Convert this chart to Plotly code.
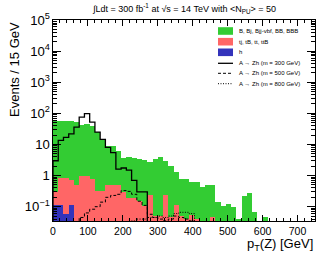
import numpy as np
import plotly.graph_objects as go

# ---- data (15 GeV bins from 0 to 750 GeV) ----
bin_width = 15
bin_edges = np.arange(0, 750 + bin_width, bin_width)
bin_centers = bin_edges[:-1] + bin_width / 2

# background components (stacked): h, tt-like, B-like
h_bkg = [0.11, 0.11, 0.058, 0.11]
tt_bkg = [0.19, 0.74, 0.79, 0.59, 0.5, 1.0, 1.0, 0.8, 0.33, 0.33,
          0.48, 0.5, 0.5, 0.29, 0.19, 0.19, 0.15, 0.107, 0.23, 0.049,
          0.049, 0.23, 0.045, 0.11, 0.049, 0.04, 0.055, 0.04, 0, 0,
          0.045]
b_bkg = [54.7, 55.15, 54.15, 56.3, 51.5, 41.0, 46.0, 37.2, 24.67, 14.17,
         8.52, 8.5, 5.5, 3.31, 3.91, 3.41, 3.15, 3.09, 2.47, 3.35,
         3.85, 2.77, 2.055, 1.19, 0.751, 0.76, 0.565, 0.56, 0.44, 0.51,
         0.465, 0.14, 0.107, 0.12, 0.095, 0.04, 0.22, 0.27, 0.066, 0.035,
         0.048, 0.035]

# signals A -> Zh
sig_300 = [3, 13.5, 17, 22, 36, 76, 98, 52, 25, 14.5,
           8, 5.5, 1.6, 1.75, 1.5, 0.7, 0.3, 0.3]
sig_500 = [0, 0, 0, 0, 0.03, 0.045, 0.063, 0.083, 0.1, 0.14,
           0.2, 0.23, 0.25, 0.33, 0.31, 0.25, 0.15, 0.11, 0.057, 0.045,
           0.04, 0.035, 0.04, 0.05, 0.045, 0.04, 0.035]
sig_800 = [0, 0, 0, 0, 0, 0, 0, 0, 0, 0,
           0, 0, 0, 0, 0.03, 0.035, 0.04, 0.04, 0.045, 0.045,
           0.05, 0.045, 0.05, 0.06, 0.066, 0.066, 0.06, 0.02]

x_ticks = [0, 100, 200, 300, 400, 500, 600, 700]

legend_labels = ["B, Bj, Bjj-vbf, BB, BBB", "tj, tB, tt, ttB", "h",
                 "A \u2192 Zh (m = 300 GeV)", "A \u2192 Zh (m = 500 GeV)",
                 "A \u2192 Zh (m = 800 GeV)"]

nb = len(bin_centers)


def pad(v):
    a = np.zeros(nb)
    a[:len(v)] = v
    return a


FLOOR = 1e-4
C_GREEN = "#33cc33"
C_RED = "#ff6666"
C_BLUE = "#3333bb"

fig = go.Figure()

for vals, col in [(h_bkg, C_BLUE), (tt_bkg, C_RED), (b_bkg, C_GREEN)]:
    fig.add_trace(go.Bar(x=bin_centers, y=pad(vals), width=bin_width,
                         marker=dict(color=col, line=dict(width=0)),
                         showlegend=False, hoverinfo="skip"))


def step_trace(vals, dash, lw):
    v = pad(vals)
    v = np.where(v > 0, v, FLOOR)
    xs = np.concatenate([[bin_edges[0]], bin_edges])
    ys = np.concatenate([[FLOOR], v, [v[-1]]])
    return go.Scatter(x=xs, y=ys, mode="lines", line_shape="hv",
                      line=dict(color="black", dash=dash, width=lw),
                      showlegend=False, hoverinfo="skip")


fig.add_trace(step_trace(sig_300, "solid", 1.3))
fig.add_trace(step_trace(sig_500, "3px,2px", 1.0))
fig.add_trace(step_trace(sig_800, "1px,1.5px", 1.0))

# ---- layout geometry ----
W, H = 332, 257
L, R, T, B = 53, 315, 20, 221


def px(x):
    return (x - L) / (R - L)


def py(y):
    return (B - y) / (B - T)


FONT = "Liberation Sans, Arial, sans-serif"

fig.update_layout(
    width=W, height=H,
    margin=dict(l=L, r=W - R, t=T, b=H - B, autoexpand=False),
    paper_bgcolor="white", plot_bgcolor="white",
    barmode="stack", bargap=0,
    font=dict(family=FONT, color="black"),
    showlegend=False,
)

fig.update_xaxes(range=[0, 750], tickvals=x_ticks, automargin=False,
                 ticks="inside", ticklen=6, tickcolor="black", tickwidth=1,
                 showline=True, linecolor="black", linewidth=1, mirror="allticks",
                 showgrid=False, zeroline=False,
                 tickfont=dict(size=10.5),
                 minor=dict(ticks="inside", ticklen=3, dtick=20,
                            tickcolor="black", showgrid=False))
fig.update_yaxes(type="log", range=[-1.46, 5], dtick=1, automargin=False,
                 exponentformat="power",
                 ticks="inside", ticklen=8, tickcolor="black", tickwidth=1,
                 showline=True, linecolor="black", linewidth=1, mirror="allticks",
                 showgrid=False, zeroline=False,
                 tickfont=dict(size=10.5),
                 minor=dict(ticks="inside", ticklen=4,
                            tickcolor="black", showgrid=False))

ann = []
ann.append(dict(text="\u222BLdt = 300 fb<sup>-1</sup> at \u221As = 14 TeV with &lt;N<sub>PU</sub>&gt; = 50",
                x=px(184), y=py(8), xref="paper", yref="paper",
                xanchor="center", yanchor="middle", showarrow=False,
                font=dict(size=9, family=FONT)))
ann.append(dict(text="Events / 15 GeV", x=px(14), y=py(70),
                xref="paper", yref="paper", xanchor="center", yanchor="middle",
                textangle=-90, showarrow=False, font=dict(size=13, family=FONT)))
ann.append(dict(text="p<sub>T</sub>(Z) [GeV]", x=1.0, y=py(244),
                xref="paper", yref="paper", xanchor="right", yanchor="middle",
                showarrow=False, font=dict(size=13, family=FONT)))

# manual legend
leg_y = [31, 41.7, 52.3, 63.3, 73.3, 83.7]
sw_x0, sw_x1, txt_x = 218, 233, 237
shapes = []
for i, col in enumerate([C_GREEN, C_RED, C_BLUE]):
    yc = leg_y[i]
    shapes.append(dict(type="rect", xref="paper", yref="paper",
                       x0=px(sw_x0), x1=px(sw_x1), y0=py(yc + 3.8), y1=py(yc - 3.8),
                       fillcolor=col, line=dict(width=0)))
for i, (dash, lw) in enumerate([("solid", 1.3), ("3px,2px", 1.0), ("1px,1.5px", 1.0)]):
    yc = leg_y[3 + i]
    shapes.append(dict(type="line", xref="paper", yref="paper",
                       x0=px(sw_x0), x1=px(sw_x1), y0=py(yc), y1=py(yc),
                       line=dict(color="black", width=lw, dash=dash)))
for lab, yc in zip(legend_labels, leg_y):
    ann.append(dict(text=lab, x=px(txt_x), y=py(yc), xref="paper", yref="paper",
                    xanchor="left", yanchor="middle", showarrow=False,
                    font=dict(size=6, family=FONT)))

fig.update_layout(annotations=ann, shapes=shapes)

fig.write_html("out.html", config={"displayModeBar": False, "staticPlot": True},
               post_script="document.body.style.margin='0';document.body.style.overflow='hidden';")
